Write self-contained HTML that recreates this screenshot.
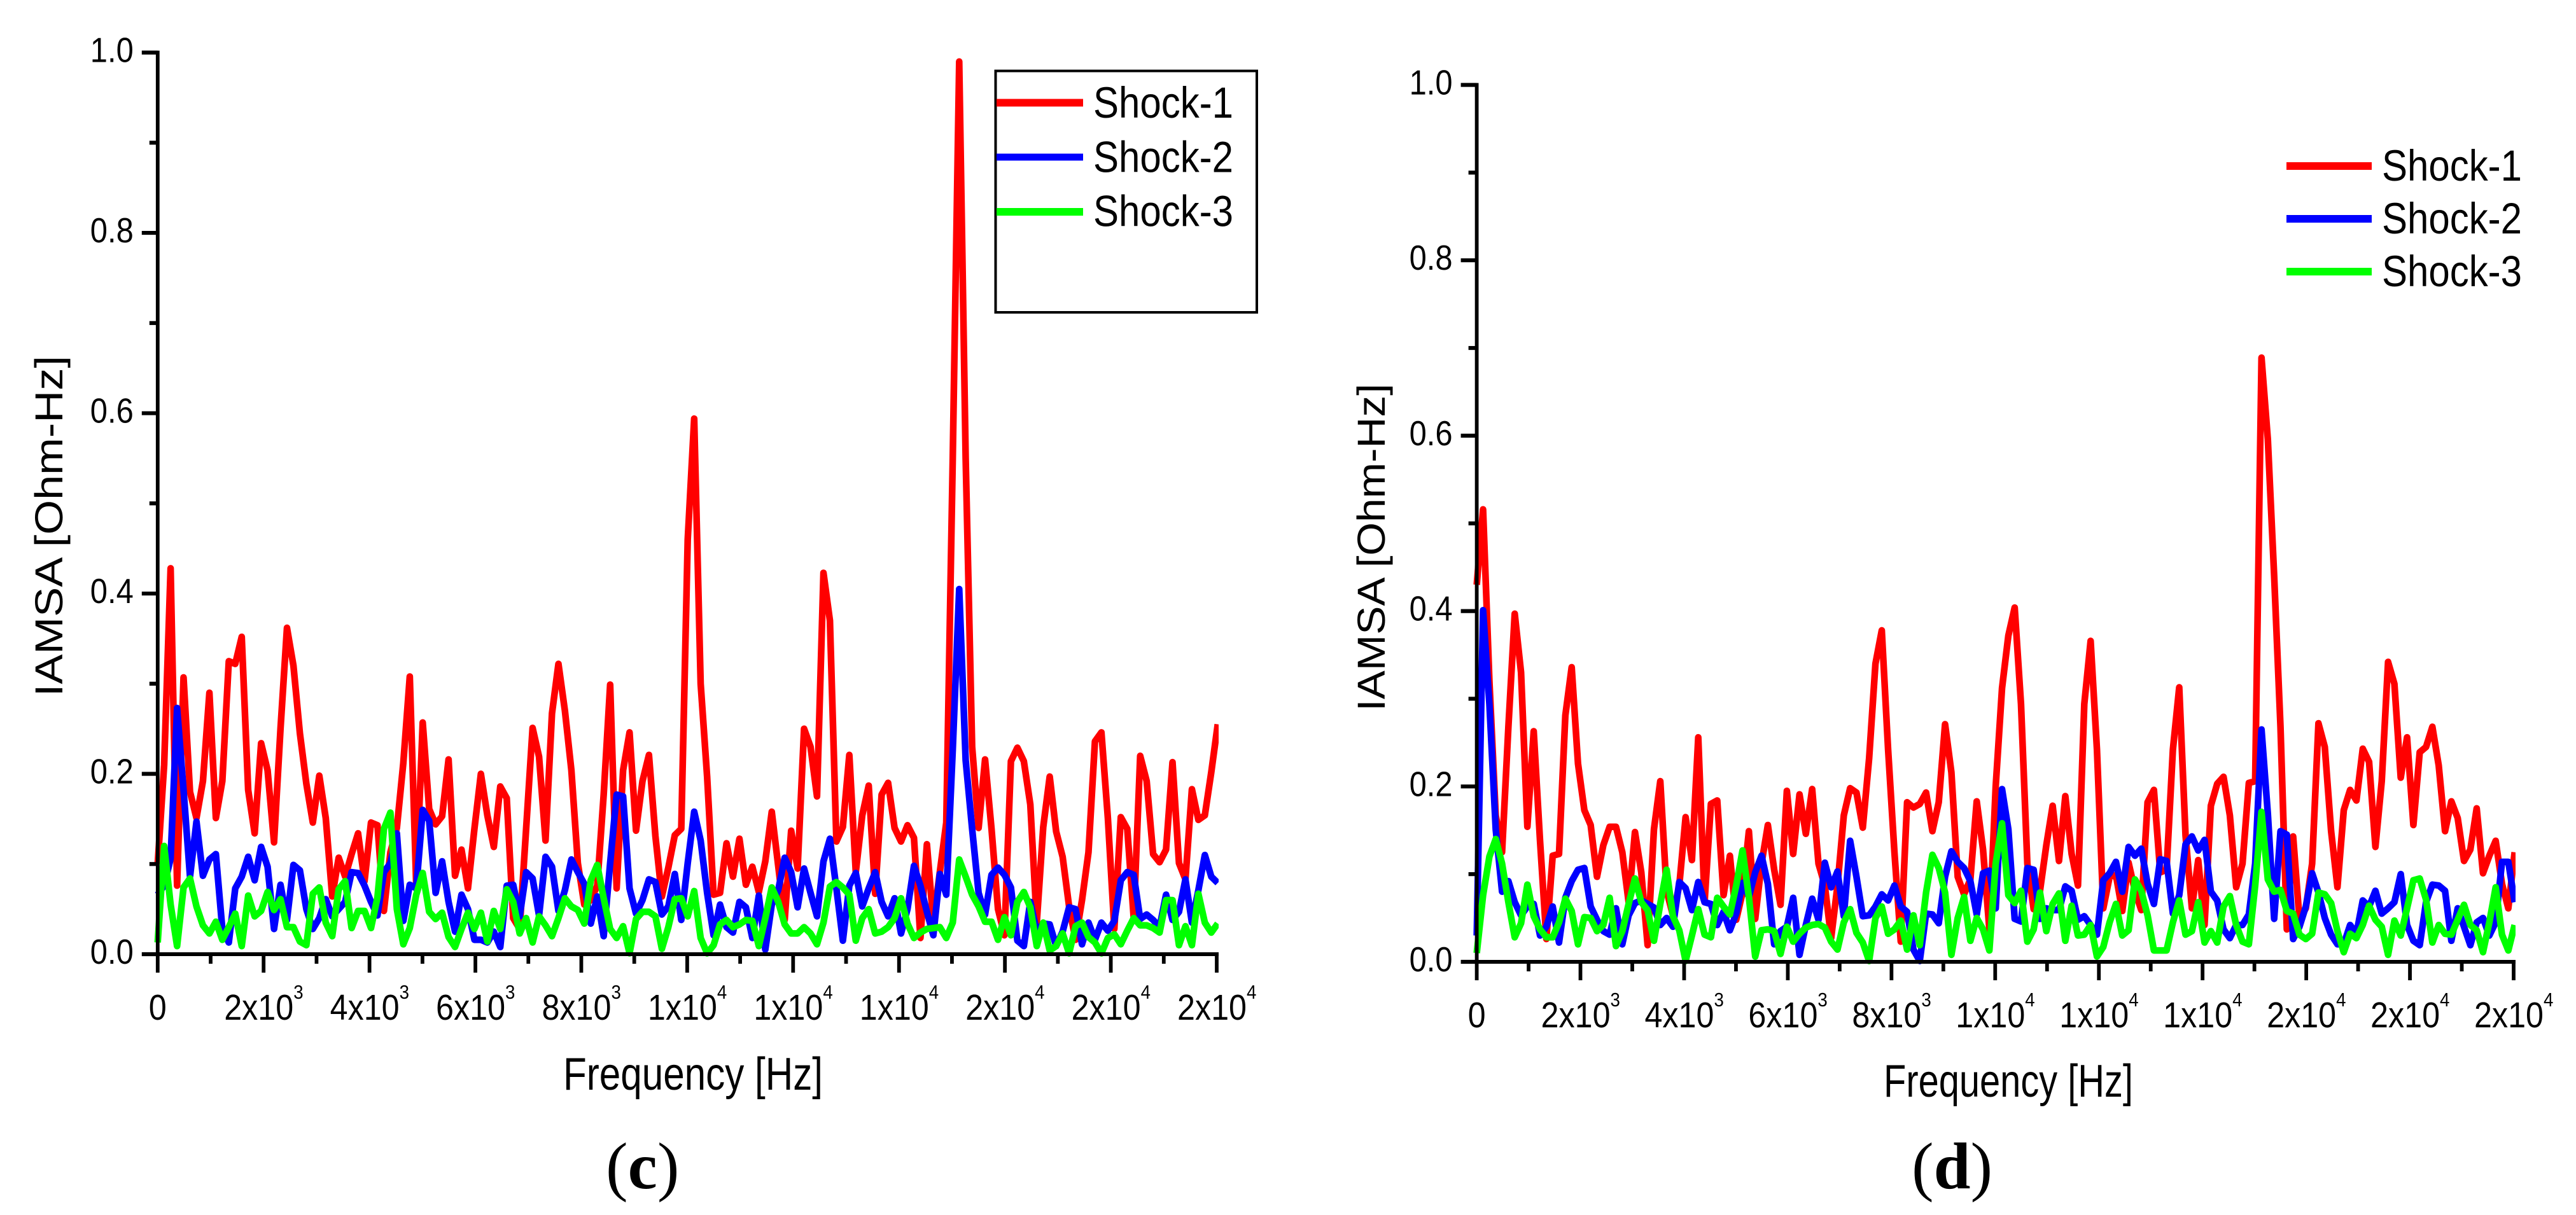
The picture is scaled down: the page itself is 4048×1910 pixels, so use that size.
<!DOCTYPE html>
<html lang="en">
<head>
<meta charset="utf-8">
<title>IAMSA vs Frequency, panels (c) and (d)</title>
<style>
html,body{margin:0;padding:0;background:#fff;}
svg{display:block;}
text{font-family:"Liberation Sans",sans-serif;fill:#000;}
.cap{font-family:"Liberation Serif",serif;font-size:104px;}
</style>
</head>
<body>
<svg id="figure" xmlns="http://www.w3.org/2000/svg" width="4048" height="1910" viewBox="0 0 4048 1910">
  <rect x="0" y="0" width="4048" height="1910" fill="#fff"/>
  <g id="panel-c"></g>
  <g id="panel-d"></g>

  <g>
    <rect x="1564.5" y="111.5" width="410.5" height="379.5" fill="none" stroke="#000" stroke-width="4"/>
    <rect x="1566" y="155.5" width="136" height="12" fill="#f00"/>
    <text x="1718" y="185" font-size="69" textLength="220" lengthAdjust="spacingAndGlyphs">Shock-1</text>
    <rect x="1566" y="241.5" width="136" height="11" fill="#00f"/>
    <text x="1718" y="270.5" font-size="69" textLength="220" lengthAdjust="spacingAndGlyphs">Shock-2</text>
    <rect x="1566" y="327" width="136" height="12" fill="#0f0"/>
    <text x="1718" y="355.5" font-size="69" textLength="220" lengthAdjust="spacingAndGlyphs">Shock-3</text>
  </g>

  <g>
    <rect x="3593" y="255" width="134" height="12" fill="#f00"/>
    <text x="3743" y="284" font-size="69" textLength="220" lengthAdjust="spacingAndGlyphs">Shock-1</text>
    <rect x="3593" y="338" width="134" height="12" fill="#00f"/>
    <text x="3743" y="367" font-size="69" textLength="220" lengthAdjust="spacingAndGlyphs">Shock-2</text>
    <rect x="3593" y="421" width="134" height="12" fill="#0f0"/>
    <text x="3743" y="450" font-size="69" textLength="220" lengthAdjust="spacingAndGlyphs">Shock-3</text>
  </g>

  <text transform="translate(98 1095) rotate(-90)" x="0" y="0" font-size="61" textLength="536" lengthAdjust="spacingAndGlyphs">IAMSA [Ohm-Hz]</text>
  <text x="885" y="1713" font-size="72" textLength="408" lengthAdjust="spacingAndGlyphs">Frequency [Hz]</text>
  <text class="cap" x="952" y="1868">(<tspan font-weight="bold">c</tspan>)</text>

  <text transform="translate(2176 1118) rotate(-90)" x="0" y="0" font-size="61" textLength="515" lengthAdjust="spacingAndGlyphs">IAMSA [Ohm-Hz]</text>
  <text x="2960" y="1724" font-size="72" textLength="392" lengthAdjust="spacingAndGlyphs">Frequency [Hz]</text>
  <text class="cap" x="3004" y="1868">(<tspan font-weight="bold">d</tspan>)</text>
</svg>

<script>
// ---- chart data ----
const binWidthHz = 122.07;
const xTickValues = [0,2000,4000,6000,8000,10000,12000,14000,16000,18000,20000];
const xTickMantissas = ["0","2x10","4x10","6x10","8x10","1x10","1x10","1x10","2x10","2x10","2x10"];
const xTickExponents = ["","3","3","3","3","4","4","4","4","4","4"];
const yTickValues = [0,0.2,0.4,0.6,0.8,1.0];
const yTickLabels = ["0.0","0.2","0.4","0.6","0.8","1.0"];

const panelCShock1 = [
.10,.21,.428,.076,.307,.18,.151,.192,.29,.151,
.192,.325,.322,.352,.182,.134,.234,.204,.124,.25,
.362,.32,.245,.189,.146,.198,.151,.064,.107,.086,
.111,.134,.081,.146,.143,.048,.113,.14,.212,.308,
.076,.257,.161,.144,.153,.216,.087,.116,.073,.139,
.2,.154,.119,.186,.173,.04,.028,.139,.251,.219,
.126,.267,.322,.27,.204,.101,.055,.06,.076,.177,
.299,.073,.204,.246,.137,.192,.221,.131,.064,.096,
.132,.139,.46,.594,.30,.197,.066,.068,.123,.086,
.128,.077,.097,.069,.103,.158,.098,.038,.137,.095,
.25,.23,.175,.423,.37,.125,.141,.221,.091,.154,
.187,.067,.177,.19,.14,.125,.143,.129,.018,.122,
.035,.091,.146,.55,.99,.55,.23,.14,.216,.139,
.05,.021,.214,.229,.214,.166,.035,.141,.197,.136,
.108,.053,.016,.06,.113,.236,.246,.151,.028,.152,
.139,.04,.22,.192,.111,.102,.116,.213,.101,.083,
.183,.149,.154,.202,.255];

const panelCShock2 = [
.066,.076,.106,.273,.182,.086,.147,.087,.105,.111,
.028,.013,.073,.086,.108,.082,.119,.097,.028,.077,
.038,.099,.093,.05,.028,.04,.061,.042,.05,.058,
.091,.09,.076,.058,.043,.091,.101,.134,.037,.077,
.073,.16,.148,.068,.103,.058,.025,.066,.05,.016,
.016,.013,.025,.008,.076,.077,.042,.091,.084,.043,
.108,.097,.048,.071,.105,.091,.078,.034,.064,.02,
.101,.177,.175,.073,.045,.06,.083,.08,.044,.053,
.089,.038,.101,.158,.126,.068,.021,.055,.03,.024,
.058,.052,.018,.065,.005,.055,.071,.107,.091,.052,
.095,.068,.042,.103,.128,.073,.015,.076,.09,.053,
.073,.091,.058,.042,.062,.023,.05,.098,.076,.047,
.021,.089,.066,.227,.405,.215,.139,.068,.044,.088,
.096,.088,.074,.015,.009,.058,.025,.034,.033,.009,
.025,.052,.05,.011,.035,.016,.035,.026,.037,.082,
.091,.088,.039,.044,.038,.03,.066,.038,.047,.083,
.035,.071,.11,.086,.079];

const panelCShock3 = [
.013,.12,.055,.009,.074,.084,.053,.032,.023,.036,
.016,.03,.045,.009,.065,.042,.048,.069,.049,.061,
.03,.03,.014,.01,.067,.074,.035,.02,.072,.081,
.029,.048,.048,.029,.063,.139,.157,.05,.011,.029,
.066,.09,.047,.039,.046,.019,.008,.028,.046,.028,
.046,.014,.048,.028,.072,.058,.023,.04,.013,.042,
.032,.02,.04,.062,.053,.049,.034,.082,.099,.062,
.028,.018,.031,.001,.039,.047,.047,.042,.006,.03,
.061,.062,.042,.07,.018,.001,.01,.033,.038,.03,
.033,.038,.037,.009,.04,.074,.058,.033,.023,.023,
.03,.023,.011,.035,.075,.08,.074,.066,.015,.04,
.05,.023,.025,.03,.04,.062,.034,.018,.024,.028,
.029,.03,.018,.035,.105,.086,.066,.053,.036,.036,
.016,.041,.021,.058,.069,.052,.009,.035,.004,.009,
.023,.001,.031,.035,.019,.013,.001,.018,.022,.011,
.026,.04,.032,.032,.029,.024,.06,.06,.01,.031,
.01,.067,.035,.024,.034];

const panelDShock1 = [
.43,.516,.32,.167,.125,.268,.397,.33,.154,.263,
.138,.026,.121,.123,.281,.336,.226,.173,.156,.097,
.133,.154,.154,.125,.068,.148,.102,.019,.151,.206,
.081,.053,.087,.165,.116,.256,.068,.18,.184,.076,
.121,.048,.079,.149,.049,.112,.156,.105,.065,.195,
.123,.191,.146,.197,.112,.087,.027,.087,.167,.198,
.193,.153,.232,.34,.378,.242,.125,.023,.182,.176,
.18,.193,.149,.182,.271,.216,.097,.077,.094,.183,
.128,.037,.2,.312,.372,.404,.294,.112,.06,.081,
.133,.178,.115,.189,.123,.087,.294,.366,.242,.061,
.097,.099,.058,.113,.081,.059,.182,.196,.102,.105,
.242,.313,.144,.061,.116,.042,.178,.203,.211,.167,
.085,.112,.204,.206,.689,.596,.44,.268,.037,.143,
.048,.061,.112,.272,.245,.149,.085,.173,.196,.184,
.243,.228,.131,.206,.342,.317,.21,.256,.156,.239,
.245,.268,.224,.149,.183,.164,.115,.128,.175,.101,
.121,.138,.089,.061,.125];

const panelDShock2 = [
.03,.401,.294,.151,.08,.092,.068,.053,.063,.066,
.03,.04,.063,.022,.073,.092,.105,.107,.063,.048,
.035,.031,.061,.02,.053,.067,.07,.066,.062,.042,
.05,.04,.091,.084,.059,.091,.068,.066,.042,.057,
.036,.055,.09,.074,.102,.121,.089,.02,.035,.04,
.073,.008,.042,.072,.048,.113,.085,.103,.052,.138,
.097,.052,.053,.063,.077,.07,.087,.063,.057,.014,
.001,.055,.054,.044,.097,.126,.114,.107,.092,.054,
.101,.104,.061,.197,.151,.049,.046,.107,.105,.049,
.061,.059,.059,.086,.081,.048,.052,.042,.031,.093,
.101,.114,.08,.131,.121,.129,.089,.066,.117,.115,
.055,.076,.134,.143,.127,.139,.08,.07,.037,.027,
.042,.042,.054,.112,.265,.169,.049,.149,.145,.026,
.04,.063,.101,.079,.05,.031,.02,.02,.042,.032,
.07,.063,.081,.055,.061,.068,.1,.042,.024,.019,
.068,.088,.087,.081,.024,.061,.04,.019,.045,.05,
.03,.045,.114,.114,.068];

const panelDShock3 = [
.01,.076,.12,.14,.112,.068,.028,.044,.088,.052,
.037,.028,.028,.045,.072,.058,.02,.051,.05,.035,
.042,.073,.018,.035,.066,.095,.068,.059,.024,.066,
.105,.052,.036,.001,.03,.06,.031,.028,.073,.063,
.054,.087,.127,.074,.006,.036,.037,.035,.009,.04,
.023,.032,.039,.042,.043,.039,.023,.014,.045,.06,
.033,.022,.001,.05,.063,.032,.037,.047,.014,.053,
.019,.079,.122,.107,.079,.008,.05,.074,.024,.05,
.037,.013,.112,.158,.076,.067,.081,.023,.037,.079,
.035,.066,.078,.024,.064,.03,.031,.042,.006,.017,
.045,.066,.03,.036,.094,.081,.053,.013,.013,.013,
.045,.07,.031,.035,.068,.022,.035,.022,.063,.075,
.042,.023,.02,.087,.171,.094,.08,.082,.058,.055,
.031,.026,.032,.079,.077,.067,.035,.011,.032,.027,
.042,.064,.048,.04,.008,.047,.03,.061,.093,.095,
.071,.022,.042,.032,.031,.048,.065,.042,.036,.011,
.045,.085,.031,.013,.042];

const xMax = 20000;
const yMax = 1.0;
const NS = 'http://www.w3.org/2000/svg';

function svgEl(tag, attrs, parent) {
  const el = document.createElementNS(NS, tag);
  for (const k in attrs) el.setAttribute(k, attrs[k]);
  parent.appendChild(el);
  return el;
}

function drawPanel(panelId, box, series) {
  const root = document.getElementById(panelId);
  const xScale = f => box.left + (f / xMax) * (box.right - box.left);
  const yScale = v => box.bottom - (v / yMax) * (box.bottom - box.top);

  // clip to the x-range of the axis (the last FFT bin overshoots 20 kHz)
  const clip = svgEl('clipPath', {id: panelId + '-clip'}, root);
  svgEl('rect', {x: box.left - 6, y: 0, width: box.right - box.left + 9, height: 1910}, clip);

  const plot = svgEl('g', {'clip-path': 'url(#' + panelId + '-clip)'}, root);
  
  

  series.forEach(s => {
    const pts = s.values.map((v, i) => xScale(i * binWidthHz).toFixed(2) + ',' + yScale(v).toFixed(2)).join(' ');
    const line = svgEl('polyline', {points: pts, fill: 'none', stroke: s.color, 'stroke-width': 10.5, 'stroke-linejoin': 'round', 'stroke-linecap': 'butt'}, plot);
    
    
  });

  // axes
  const yAxis = svgEl('line', {x1: box.left, x2: box.left, y1: box.top - 3, y2: box.bottom + 3, stroke: '#000', 'stroke-width': 5.8}, root);
  
  
  const xAxis = svgEl('line', {x1: box.left - 3, x2: box.right + 3, y1: box.bottom, y2: box.bottom, stroke: '#000', 'stroke-width': 6}, root);
  
  

  // y ticks and labels
  yTickValues.forEach((v, i) => {
    const y = yScale(v);
    const tick = svgEl('line', {x1: box.left - 25, x2: box.left, y1: y, y2: y, stroke: '#000', 'stroke-width': 6.2}, root);
    
    
    const label = svgEl('text', {x: box.left + box.yLabelDx, y: y + 15, 'font-size': 55, textLength: 68, lengthAdjust: 'spacingAndGlyphs'}, root);
    label.textContent = yTickLabels[i];
    
    
    if (i < yTickValues.length - 1) {
      const ym = yScale((v + yTickValues[i + 1]) / 2);
      const minor = svgEl('line', {x1: box.left - 13, x2: box.left, y1: ym, y2: ym, stroke: '#000', 'stroke-width': 6.2}, root);
      
      
    }
  });

  // x ticks and labels
  xTickValues.forEach((f, i) => {
    const x = xScale(f);
    const tick = svgEl('line', {x1: x, x2: x, y1: box.bottom, y2: box.bottom + 29, stroke: '#000', 'stroke-width': 5.8}, root);
    
    
    if (i < xTickValues.length - 1) {
      const xm = xScale((f + xTickValues[i + 1]) / 2);
      const minor = svgEl('line', {x1: xm, x2: xm, y1: box.bottom, y2: box.bottom + 15, stroke: '#000', 'stroke-width': 5.8}, root);
      
      
    }
    const mant = xTickMantissas[i];
    const exp = xTickExponents[i];
    const labelY = box.bottom + 103;
    if (exp === '') {
      const zero = svgEl('text', {x: x - 14, y: labelY, 'font-size': 57, textLength: 28, lengthAdjust: 'spacingAndGlyphs'}, root);
      zero.textContent = mant;
      
      
    } else {
      const base = svgEl('text', {x: x - 62, y: labelY, 'font-size': 57, textLength: 109, lengthAdjust: 'spacingAndGlyphs'}, root);
      base.textContent = mant;
      
      
      const sup = svgEl('text', {x: x + 47, y: labelY - 33, 'font-size': 31, textLength: 15.4, lengthAdjust: 'spacingAndGlyphs'}, root);
      sup.textContent = exp;
      
      
    }
  });
}

drawPanel('panel-c', {left: 247.8, right: 1912, top: 82.6, bottom: 1500, yLabelDx: -106}, [
  {name: 'series-shock-1', color: '#f00', values: panelCShock1},
  {name: 'series-shock-2', color: '#00f', values: panelCShock2},
  {name: 'series-shock-3', color: '#0f0', values: panelCShock3}
]);
drawPanel('panel-d', {left: 2320.6, right: 3950, top: 133.5, bottom: 1512, yLabelDx: -106}, [
  {name: 'series-shock-1', color: '#f00', values: panelDShock1},
  {name: 'series-shock-2', color: '#00f', values: panelDShock2},
  {name: 'series-shock-3', color: '#0f0', values: panelDShock3}
]);
</script>
</body>
</html>
